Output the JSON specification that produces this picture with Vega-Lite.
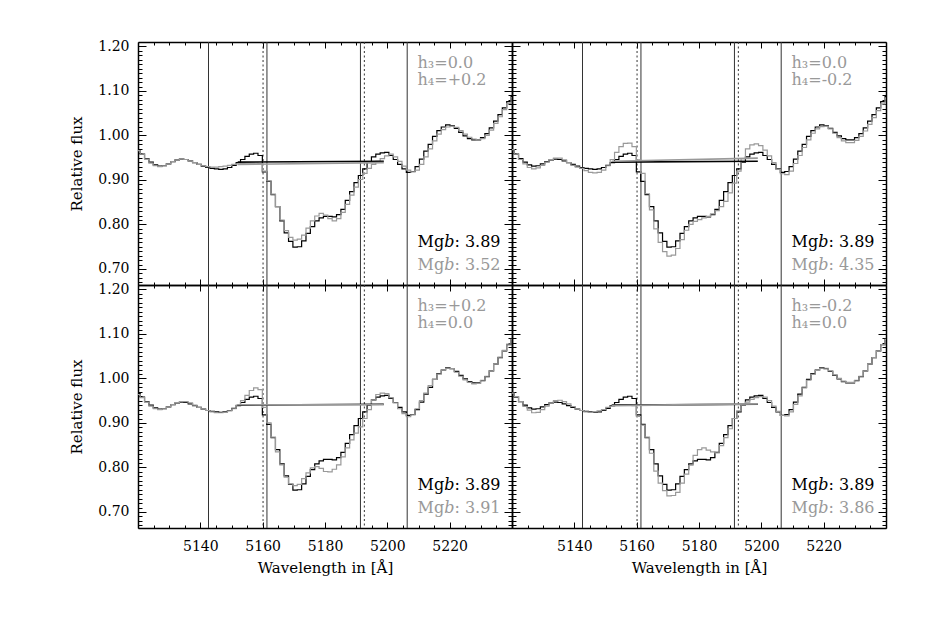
{
  "$schema": "https://vega.github.io/schema/vega-lite/v6.json",
  "padding": {"left": 69, "top": 39, "right": 5, "bottom": 5},
  "background": "white",
  "spacing": 0,
  "bounds": "flush",
  "columns": 2,
  "datasets": {
    "spec": [
      {"w":5120.0,"b":0.966,"g1":0.966,"g2":0.968,"g3":0.964,"g4":0.967},
      {"w":5121.4,"b":0.958,"g1":0.958,"g2":0.958,"g3":0.957,"g4":0.959},
      {"w":5122.8,"b":0.948,"g1":0.947,"g2":0.946,"g3":0.947,"g4":0.948},
      {"w":5124.2,"b":0.940,"g1":0.938,"g2":0.936,"g3":0.938,"g4":0.937},
      {"w":5125.6,"b":0.934,"g1":0.932,"g2":0.928,"g3":0.932,"g4":0.929},
      {"w":5127.0,"b":0.931,"g1":0.930,"g2":0.925,"g3":0.930,"g4":0.923},
      {"w":5128.4,"b":0.932,"g1":0.932,"g2":0.927,"g3":0.932,"g4":0.924},
      {"w":5129.8,"b":0.936,"g1":0.936,"g2":0.933,"g3":0.936,"g4":0.930},
      {"w":5131.2,"b":0.941,"g1":0.941,"g2":0.940,"g3":0.941,"g4":0.938},
      {"w":5132.6,"b":0.945,"g1":0.945,"g2":0.946,"g3":0.946,"g4":0.945},
      {"w":5134.0,"b":0.947,"g1":0.947,"g2":0.949,"g3":0.948,"g4":0.950},
      {"w":5135.4,"b":0.946,"g1":0.946,"g2":0.949,"g3":0.948,"g4":0.951},
      {"w":5136.8,"b":0.943,"g1":0.943,"g2":0.945,"g3":0.945,"g4":0.948},
      {"w":5138.2,"b":0.939,"g1":0.939,"g2":0.939,"g3":0.940,"g4":0.943},
      {"w":5139.6,"b":0.935,"g1":0.935,"g2":0.933,"g3":0.935,"g4":0.937},
      {"w":5141.0,"b":0.931,"g1":0.932,"g2":0.929,"g3":0.931,"g4":0.931},
      {"w":5142.4,"b":0.928,"g1":0.930,"g2":0.926,"g3":0.928,"g4":0.928},
      {"w":5143.8,"b":0.926,"g1":0.929,"g2":0.921,"g3":0.925,"g4":0.925},
      {"w":5145.2,"b":0.925,"g1":0.929,"g2":0.917,"g3":0.923,"g4":0.924},
      {"w":5146.6,"b":0.924,"g1":0.930,"g2":0.916,"g3":0.923,"g4":0.925},
      {"w":5148.0,"b":0.925,"g1":0.931,"g2":0.917,"g3":0.924,"g4":0.927},
      {"w":5149.4,"b":0.928,"g1":0.933,"g2":0.922,"g3":0.927,"g4":0.930},
      {"w":5150.8,"b":0.933,"g1":0.935,"g2":0.932,"g3":0.932,"g4":0.935},
      {"w":5152.2,"b":0.939,"g1":0.936,"g2":0.946,"g3":0.940,"g4":0.938},
      {"w":5153.6,"b":0.946,"g1":0.937,"g2":0.962,"g3":0.950,"g4":0.940},
      {"w":5155.0,"b":0.953,"g1":0.938,"g2":0.975,"g3":0.962,"g4":0.941},
      {"w":5156.4,"b":0.958,"g1":0.938,"g2":0.982,"g3":0.973,"g4":0.941},
      {"w":5157.8,"b":0.960,"g1":0.938,"g2":0.983,"g3":0.979,"g4":0.941},
      {"w":5159.2,"b":0.955,"g1":0.937,"g2":0.975,"g3":0.975,"g4":0.939},
      {"w":5160.6,"b":0.918,"g1":0.920,"g2":0.945,"g3":0.935,"g4":0.915},
      {"w":5162.0,"b":0.897,"g1":0.898,"g2":0.915,"g3":0.900,"g4":0.895},
      {"w":5163.4,"b":0.867,"g1":0.868,"g2":0.869,"g3":0.868,"g4":0.868},
      {"w":5164.8,"b":0.840,"g1":0.840,"g2":0.833,"g3":0.835,"g4":0.832},
      {"w":5166.2,"b":0.808,"g1":0.810,"g2":0.790,"g3":0.806,"g4":0.792},
      {"w":5167.6,"b":0.781,"g1":0.786,"g2":0.760,"g3":0.778,"g4":0.765},
      {"w":5169.0,"b":0.762,"g1":0.771,"g2":0.739,"g3":0.763,"g4":0.748},
      {"w":5170.4,"b":0.749,"g1":0.765,"g2":0.729,"g3":0.759,"g4":0.736},
      {"w":5171.8,"b":0.750,"g1":0.767,"g2":0.731,"g3":0.762,"g4":0.737},
      {"w":5173.2,"b":0.763,"g1":0.776,"g2":0.746,"g3":0.775,"g4":0.744},
      {"w":5174.6,"b":0.780,"g1":0.792,"g2":0.766,"g3":0.788,"g4":0.765},
      {"w":5176.0,"b":0.795,"g1":0.808,"g2":0.787,"g3":0.799,"g4":0.785},
      {"w":5177.4,"b":0.808,"g1":0.819,"g2":0.800,"g3":0.802,"g4":0.805},
      {"w":5178.8,"b":0.815,"g1":0.825,"g2":0.807,"g3":0.798,"g4":0.827},
      {"w":5180.2,"b":0.818,"g1":0.821,"g2":0.811,"g3":0.791,"g4":0.840},
      {"w":5181.6,"b":0.818,"g1":0.813,"g2":0.815,"g3":0.790,"g4":0.844},
      {"w":5183.0,"b":0.817,"g1":0.808,"g2":0.818,"g3":0.796,"g4":0.839},
      {"w":5184.4,"b":0.822,"g1":0.813,"g2":0.824,"g3":0.806,"g4":0.835},
      {"w":5185.8,"b":0.834,"g1":0.827,"g2":0.831,"g3":0.824,"g4":0.833},
      {"w":5187.2,"b":0.854,"g1":0.845,"g2":0.840,"g3":0.844,"g4":0.849},
      {"w":5188.6,"b":0.874,"g1":0.866,"g2":0.852,"g3":0.862,"g4":0.867},
      {"w":5190.0,"b":0.894,"g1":0.884,"g2":0.871,"g3":0.877,"g4":0.887},
      {"w":5191.4,"b":0.910,"g1":0.901,"g2":0.893,"g3":0.891,"g4":0.910},
      {"w":5192.8,"b":0.925,"g1":0.915,"g2":0.920,"g3":0.910,"g4":0.927},
      {"w":5194.2,"b":0.940,"g1":0.926,"g2":0.948,"g3":0.930,"g4":0.940},
      {"w":5195.6,"b":0.952,"g1":0.935,"g2":0.970,"g3":0.952,"g4":0.947},
      {"w":5197.0,"b":0.958,"g1":0.942,"g2":0.979,"g3":0.964,"g4":0.953},
      {"w":5198.4,"b":0.961,"g1":0.948,"g2":0.981,"g3":0.967,"g4":0.957},
      {"w":5199.8,"b":0.962,"g1":0.954,"g2":0.977,"g3":0.966,"g4":0.959},
      {"w":5201.2,"b":0.955,"g1":0.958,"g2":0.967,"g3":0.957,"g4":0.958},
      {"w":5202.6,"b":0.946,"g1":0.952,"g2":0.954,"g3":0.945,"g4":0.950},
      {"w":5204.0,"b":0.935,"g1":0.942,"g2":0.939,"g3":0.932,"g4":0.938},
      {"w":5205.4,"b":0.925,"g1":0.931,"g2":0.924,"g3":0.921,"g4":0.926},
      {"w":5206.8,"b":0.917,"g1":0.922,"g2":0.914,"g3":0.914,"g4":0.917},
      {"w":5208.2,"b":0.919,"g1":0.918,"g2":0.912,"g3":0.918,"g4":0.916},
      {"w":5209.6,"b":0.930,"g1":0.922,"g2":0.920,"g3":0.932,"g4":0.925},
      {"w":5211.0,"b":0.947,"g1":0.935,"g2":0.937,"g3":0.950,"g4":0.942},
      {"w":5212.4,"b":0.965,"g1":0.952,"g2":0.955,"g3":0.967,"g4":0.961},
      {"w":5213.8,"b":0.980,"g1":0.970,"g2":0.973,"g3":0.984,"g4":0.979},
      {"w":5215.2,"b":0.998,"g1":0.988,"g2":0.990,"g3":0.998,"g4":0.996},
      {"w":5216.6,"b":1.011,"g1":1.003,"g2":1.005,"g3":1.010,"g4":1.009},
      {"w":5218.0,"b":1.019,"g1":1.013,"g2":1.015,"g3":1.019,"g4":1.018},
      {"w":5219.4,"b":1.024,"g1":1.019,"g2":1.020,"g3":1.023,"g4":1.023},
      {"w":5220.8,"b":1.022,"g1":1.021,"g2":1.021,"g3":1.022,"g4":1.023},
      {"w":5222.2,"b":1.016,"g1":1.018,"g2":1.015,"g3":1.014,"g4":1.017},
      {"w":5223.6,"b":1.007,"g1":1.011,"g2":1.005,"g3":1.005,"g4":1.008},
      {"w":5225.0,"b":0.999,"g1":1.003,"g2":0.995,"g3":0.997,"g4":1.000},
      {"w":5226.4,"b":0.993,"g1":0.996,"g2":0.988,"g3":0.991,"g4":0.994},
      {"w":5227.8,"b":0.990,"g1":0.992,"g2":0.984,"g3":0.988,"g4":0.991},
      {"w":5229.2,"b":0.990,"g1":0.990,"g2":0.984,"g3":0.989,"g4":0.991},
      {"w":5230.6,"b":0.995,"g1":0.993,"g2":0.989,"g3":0.996,"g4":0.996},
      {"w":5232.0,"b":1.004,"g1":1.000,"g2":0.998,"g3":1.005,"g4":1.005},
      {"w":5233.4,"b":1.017,"g1":1.012,"g2":1.010,"g3":1.017,"g4":1.017},
      {"w":5234.8,"b":1.032,"g1":1.027,"g2":1.025,"g3":1.032,"g4":1.032},
      {"w":5236.2,"b":1.047,"g1":1.042,"g2":1.040,"g3":1.048,"g4":1.047},
      {"w":5237.6,"b":1.062,"g1":1.058,"g2":1.056,"g3":1.063,"g4":1.062},
      {"w":5239.0,"b":1.076,"g1":1.072,"g2":1.071,"g3":1.077,"g4":1.076},
      {"w":5240.4,"b":1.088,"g1":1.085,"g2":1.084,"g3":1.088,"g4":1.088}
    ],
    "vlines": [
      {"w":5142.625,"style":"solid"},
      {"w":5161.375,"style":"solid"},
      {"w":5191.375,"style":"solid"},
      {"w":5206.375,"style":"solid"},
      {"w":5160.125,"style":"dotted"},
      {"w":5192.625,"style":"dotted"}
    ],
    "cont": [
      {"p":"TL","who":"ref","w":5152.0,"f":0.940},
      {"p":"TL","who":"ref","w":5198.875,"f":0.942},
      {"p":"TL","who":"model","w":5152.0,"f":0.935},
      {"p":"TL","who":"model","w":5198.875,"f":0.939},
      {"p":"TR","who":"ref","w":5152.0,"f":0.940},
      {"p":"TR","who":"ref","w":5198.875,"f":0.942},
      {"p":"TR","who":"model","w":5152.0,"f":0.942},
      {"p":"TR","who":"model","w":5198.875,"f":0.949},
      {"p":"BL","who":"ref","w":5152.0,"f":0.940},
      {"p":"BL","who":"ref","w":5198.875,"f":0.942},
      {"p":"BL","who":"model","w":5152.0,"f":0.941},
      {"p":"BL","who":"model","w":5198.875,"f":0.941},
      {"p":"BR","who":"ref","w":5152.0,"f":0.940},
      {"p":"BR","who":"ref","w":5198.875,"f":0.942},
      {"p":"BR","who":"model","w":5152.0,"f":0.939},
      {"p":"BR","who":"model","w":5198.875,"f":0.943}
    ],
    "notes": [
      {"p":"TL","who":"model","x":5209.7,"y":1.163,"label":"h₃=0.0"},
      {"p":"TL","who":"model","x":5209.7,"y":1.124,"label":"h₄=+0.2"},
      {"p":"TL","who":"ref","x":5209.7,"y":0.760,"label":"Mg𝑏: 3.89"},
      {"p":"TL","who":"model","x":5209.7,"y":0.710,"label":"Mg𝑏: 3.52"},
      {"p":"TR","who":"model","x":5209.7,"y":1.163,"label":"h₃=0.0"},
      {"p":"TR","who":"model","x":5209.7,"y":1.124,"label":"h₄=-0.2"},
      {"p":"TR","who":"ref","x":5209.7,"y":0.760,"label":"Mg𝑏: 3.89"},
      {"p":"TR","who":"model","x":5209.7,"y":0.710,"label":"Mg𝑏: 4.35"},
      {"p":"BL","who":"model","x":5209.7,"y":1.163,"label":"h₃=+0.2"},
      {"p":"BL","who":"model","x":5209.7,"y":1.124,"label":"h₄=0.0"},
      {"p":"BL","who":"ref","x":5209.7,"y":0.760,"label":"Mg𝑏: 3.89"},
      {"p":"BL","who":"model","x":5209.7,"y":0.710,"label":"Mg𝑏: 3.91"},
      {"p":"BR","who":"model","x":5209.7,"y":1.163,"label":"h₃=-0.2"},
      {"p":"BR","who":"model","x":5209.7,"y":1.124,"label":"h₄=0.0"},
      {"p":"BR","who":"ref","x":5209.7,"y":0.760,"label":"Mg𝑏: 3.89"},
      {"p":"BR","who":"model","x":5209.7,"y":0.710,"label":"Mg𝑏: 3.86"}
    ]
  },
  "concat": [
    {
      "width": 374, "height": 243,
      "resolve": {"axis": {"x": "independent", "y": "independent"}},
      "layer": [
        {"data": {"name": "vlines"}, "mark": {"type": "rule", "color": "#333333", "strokeWidth": 1},
         "encoding": {"x": {"field": "w", "type": "quantitative", "scale": {"domain": [5120, 5240], "nice": false, "zero": false}, "axis": null},
                      "strokeDash": {"field": "style", "type": "nominal", "scale": {"domain": ["solid", "dotted"], "range": [[1, 0], [2, 2.5]]}, "legend": null}}},
        {"data": {"name": "spec"}, "mark": {"type": "line", "interpolate": "step", "color": "black", "strokeWidth": 1.2, "clip": true},
         "encoding": {
           "x": {"field": "w", "type": "quantitative", "scale": {"domain": [5120, 5240], "nice": false, "zero": false},
                 "axis": {"orient": "bottom", "values": [5120,5140,5160,5180,5200,5220,5240], "tickSize": -6, "labels": false, "title": null}},
           "y": {"field": "b", "type": "quantitative", "scale": {"domain": [0.664, 1.21], "nice": false, "zero": false},
                 "axis": {"orient": "left", "values": [0.7,0.8,0.9,1,1.1,1.2], "tickSize": -8, "format": ".2f", "labelPadding": 17, "title": "Relative flux", "titleX": -57, "titleBaseline": "alphabetic"}}}},
        {"data": {"name": "spec"}, "mark": {"type": "line", "interpolate": "step", "color": "#999999", "strokeWidth": 1.2, "clip": true},
         "encoding": {
           "x": {"field": "w", "type": "quantitative", "scale": {"domain": [5120, 5240], "nice": false, "zero": false},
                 "axis": {"orient": "top", "values": [5120,5140,5160,5180,5200,5220,5240], "tickSize": -6, "labels": false, "title": null}},
           "y": {"field": "g1", "type": "quantitative", "scale": {"domain": [0.664, 1.21], "nice": false, "zero": false},
                 "axis": {"orient": "right", "values": [0.7,0.8,0.9,1,1.1,1.2], "tickSize": -8, "labels": false, "title": null}}}},
        {"data": {"name": "cont"}, "transform": [{"filter": "datum.p === 'TL'"}], "mark": {"type": "line", "strokeWidth": 1.6},
         "encoding": {"x": {"field": "w", "type": "quantitative", "scale": {"domain": [5120, 5240], "nice": false, "zero": false},
                            "axis": {"orient": "bottom", "values": [5125,5130,5135,5145,5150,5155,5165,5170,5175,5185,5190,5195,5205,5210,5215,5225,5230,5235], "tickSize": -3, "labels": false, "domain": false, "title": null}},
                      "y": {"field": "f", "type": "quantitative", "scale": {"domain": [0.664, 1.21], "nice": false, "zero": false},
                            "axis": {"orient": "left", "values": [0.67,0.68,0.69,0.71,0.72,0.73,0.74,0.75,0.76,0.77,0.78,0.79,0.81,0.82,0.83,0.84,0.85,0.86,0.87,0.88,0.89,0.91,0.92,0.93,0.94,0.95,0.96,0.97,0.98,0.99,1.01,1.02,1.03,1.04,1.05,1.06,1.07,1.08,1.09,1.11,1.12,1.13,1.14,1.15,1.16,1.17,1.18,1.19], "tickSize": -4, "labels": false, "domain": false, "title": null}},
                      "color": {"field": "who", "type": "nominal", "scale": {"domain": ["ref", "model"], "range": ["black", "#999999"]}, "legend": null}}},
        {"data": {"name": "notes"}, "transform": [{"filter": "datum.p === 'TL'"}], "mark": {"type": "text", "align": "left", "baseline": "middle", "fontSize": 16, "font": "DejaVu Serif"},
         "encoding": {"x": {"field": "x", "type": "quantitative", "scale": {"domain": [5120, 5240], "nice": false, "zero": false},
                            "axis": {"orient": "top", "values": [5125,5130,5135,5145,5150,5155,5165,5170,5175,5185,5190,5195,5205,5210,5215,5225,5230,5235], "tickSize": -3, "labels": false, "domain": false, "title": null}},
                      "y": {"field": "y", "type": "quantitative", "scale": {"domain": [0.664, 1.21], "nice": false, "zero": false},
                            "axis": {"orient": "right", "values": [0.67,0.68,0.69,0.71,0.72,0.73,0.74,0.75,0.76,0.77,0.78,0.79,0.81,0.82,0.83,0.84,0.85,0.86,0.87,0.88,0.89,0.91,0.92,0.93,0.94,0.95,0.96,0.97,0.98,0.99,1.01,1.02,1.03,1.04,1.05,1.06,1.07,1.08,1.09,1.11,1.12,1.13,1.14,1.15,1.16,1.17,1.18,1.19], "tickSize": -4, "labels": false, "domain": false, "title": null}},
                      "text": {"field": "label"},
                      "color": {"field": "who", "type": "nominal", "scale": {"domain": ["ref", "model"], "range": ["black", "#999999"]}, "legend": null}}}
      ]
    },
    {
      "width": 374, "height": 243,
      "resolve": {"axis": {"x": "independent", "y": "independent"}},
      "layer": [
        {"data": {"name": "vlines"}, "mark": {"type": "rule", "color": "#333333", "strokeWidth": 1},
         "encoding": {"x": {"field": "w", "type": "quantitative", "scale": {"domain": [5120, 5240], "nice": false, "zero": false}, "axis": null},
                      "strokeDash": {"field": "style", "type": "nominal", "scale": {"domain": ["solid", "dotted"], "range": [[1, 0], [2, 2.5]]}, "legend": null}}},
        {"data": {"name": "spec"}, "mark": {"type": "line", "interpolate": "step", "color": "black", "strokeWidth": 1.2, "clip": true},
         "encoding": {
           "x": {"field": "w", "type": "quantitative", "scale": {"domain": [5120, 5240], "nice": false, "zero": false},
                 "axis": {"orient": "bottom", "values": [5120,5140,5160,5180,5200,5220,5240], "tickSize": -6, "labels": false, "title": null}},
           "y": {"field": "b", "type": "quantitative", "scale": {"domain": [0.664, 1.21], "nice": false, "zero": false},
                 "axis": {"orient": "left", "values": [0.7,0.8,0.9,1,1.1,1.2], "tickSize": -8, "labels": false, "title": null}}}},
        {"data": {"name": "spec"}, "mark": {"type": "line", "interpolate": "step", "color": "#999999", "strokeWidth": 1.2, "clip": true},
         "encoding": {
           "x": {"field": "w", "type": "quantitative", "scale": {"domain": [5120, 5240], "nice": false, "zero": false},
                 "axis": {"orient": "top", "values": [5120,5140,5160,5180,5200,5220,5240], "tickSize": -6, "labels": false, "title": null}},
           "y": {"field": "g2", "type": "quantitative", "scale": {"domain": [0.664, 1.21], "nice": false, "zero": false},
                 "axis": {"orient": "right", "values": [0.7,0.8,0.9,1,1.1,1.2], "tickSize": -8, "labels": false, "title": null}}}},
        {"data": {"name": "cont"}, "transform": [{"filter": "datum.p === 'TR'"}], "mark": {"type": "line", "strokeWidth": 1.6},
         "encoding": {"x": {"field": "w", "type": "quantitative", "scale": {"domain": [5120, 5240], "nice": false, "zero": false},
                            "axis": {"orient": "bottom", "values": [5125,5130,5135,5145,5150,5155,5165,5170,5175,5185,5190,5195,5205,5210,5215,5225,5230,5235], "tickSize": -3, "labels": false, "domain": false, "title": null}},
                      "y": {"field": "f", "type": "quantitative", "scale": {"domain": [0.664, 1.21], "nice": false, "zero": false},
                            "axis": {"orient": "left", "values": [0.67,0.68,0.69,0.71,0.72,0.73,0.74,0.75,0.76,0.77,0.78,0.79,0.81,0.82,0.83,0.84,0.85,0.86,0.87,0.88,0.89,0.91,0.92,0.93,0.94,0.95,0.96,0.97,0.98,0.99,1.01,1.02,1.03,1.04,1.05,1.06,1.07,1.08,1.09,1.11,1.12,1.13,1.14,1.15,1.16,1.17,1.18,1.19], "tickSize": -4, "labels": false, "domain": false, "title": null}},
                      "color": {"field": "who", "type": "nominal", "scale": {"domain": ["ref", "model"], "range": ["black", "#999999"]}, "legend": null}}},
        {"data": {"name": "notes"}, "transform": [{"filter": "datum.p === 'TR'"}], "mark": {"type": "text", "align": "left", "baseline": "middle", "fontSize": 16, "font": "DejaVu Serif"},
         "encoding": {"x": {"field": "x", "type": "quantitative", "scale": {"domain": [5120, 5240], "nice": false, "zero": false},
                            "axis": {"orient": "top", "values": [5125,5130,5135,5145,5150,5155,5165,5170,5175,5185,5190,5195,5205,5210,5215,5225,5230,5235], "tickSize": -3, "labels": false, "domain": false, "title": null}},
                      "y": {"field": "y", "type": "quantitative", "scale": {"domain": [0.664, 1.21], "nice": false, "zero": false},
                            "axis": {"orient": "right", "values": [0.67,0.68,0.69,0.71,0.72,0.73,0.74,0.75,0.76,0.77,0.78,0.79,0.81,0.82,0.83,0.84,0.85,0.86,0.87,0.88,0.89,0.91,0.92,0.93,0.94,0.95,0.96,0.97,0.98,0.99,1.01,1.02,1.03,1.04,1.05,1.06,1.07,1.08,1.09,1.11,1.12,1.13,1.14,1.15,1.16,1.17,1.18,1.19], "tickSize": -4, "labels": false, "domain": false, "title": null}},
                      "text": {"field": "label"},
                      "color": {"field": "who", "type": "nominal", "scale": {"domain": ["ref", "model"], "range": ["black", "#999999"]}, "legend": null}}}
      ]
    },
    {
      "width": 374, "height": 243,
      "resolve": {"axis": {"x": "independent", "y": "independent"}},
      "layer": [
        {"data": {"name": "vlines"}, "mark": {"type": "rule", "color": "#333333", "strokeWidth": 1},
         "encoding": {"x": {"field": "w", "type": "quantitative", "scale": {"domain": [5120, 5240], "nice": false, "zero": false}, "axis": null},
                      "strokeDash": {"field": "style", "type": "nominal", "scale": {"domain": ["solid", "dotted"], "range": [[1, 0], [2, 2.5]]}, "legend": null}}},
        {"data": {"name": "spec"}, "mark": {"type": "line", "interpolate": "step", "color": "black", "strokeWidth": 1.2, "clip": true},
         "encoding": {
           "x": {"field": "w", "type": "quantitative", "scale": {"domain": [5120, 5240], "nice": false, "zero": false},
                 "axis": {"orient": "bottom", "values": [5120,5140,5160,5180,5200,5220,5240], "tickSize": -6, "labelExpr": "(datum.value > 5120 && datum.value < 5240) ? format(datum.value, 'd') : ''", "labelPadding": 17, "title": "Wavelength in [Å]", "titleY": 44, "titleBaseline": "alphabetic"}},
           "y": {"field": "b", "type": "quantitative", "scale": {"domain": [0.664, 1.21], "nice": false, "zero": false},
                 "axis": {"orient": "left", "values": [0.7,0.8,0.9,1,1.1,1.2], "tickSize": -8, "format": ".2f", "labelPadding": 17, "title": "Relative flux", "titleX": -57, "titleBaseline": "alphabetic"}}}},
        {"data": {"name": "spec"}, "mark": {"type": "line", "interpolate": "step", "color": "#999999", "strokeWidth": 1.2, "clip": true},
         "encoding": {
           "x": {"field": "w", "type": "quantitative", "scale": {"domain": [5120, 5240], "nice": false, "zero": false},
                 "axis": {"orient": "top", "values": [5120,5140,5160,5180,5200,5220,5240], "tickSize": -6, "labels": false, "title": null}},
           "y": {"field": "g3", "type": "quantitative", "scale": {"domain": [0.664, 1.21], "nice": false, "zero": false},
                 "axis": {"orient": "right", "values": [0.7,0.8,0.9,1,1.1,1.2], "tickSize": -8, "labels": false, "title": null}}}},
        {"data": {"name": "cont"}, "transform": [{"filter": "datum.p === 'BL'"}], "mark": {"type": "line", "strokeWidth": 1.6},
         "encoding": {"x": {"field": "w", "type": "quantitative", "scale": {"domain": [5120, 5240], "nice": false, "zero": false},
                            "axis": {"orient": "bottom", "values": [5125,5130,5135,5145,5150,5155,5165,5170,5175,5185,5190,5195,5205,5210,5215,5225,5230,5235], "tickSize": -3, "labels": false, "domain": false, "title": null}},
                      "y": {"field": "f", "type": "quantitative", "scale": {"domain": [0.664, 1.21], "nice": false, "zero": false},
                            "axis": {"orient": "left", "values": [0.67,0.68,0.69,0.71,0.72,0.73,0.74,0.75,0.76,0.77,0.78,0.79,0.81,0.82,0.83,0.84,0.85,0.86,0.87,0.88,0.89,0.91,0.92,0.93,0.94,0.95,0.96,0.97,0.98,0.99,1.01,1.02,1.03,1.04,1.05,1.06,1.07,1.08,1.09,1.11,1.12,1.13,1.14,1.15,1.16,1.17,1.18,1.19], "tickSize": -4, "labels": false, "domain": false, "title": null}},
                      "color": {"field": "who", "type": "nominal", "scale": {"domain": ["ref", "model"], "range": ["black", "#999999"]}, "legend": null}}},
        {"data": {"name": "notes"}, "transform": [{"filter": "datum.p === 'BL'"}], "mark": {"type": "text", "align": "left", "baseline": "middle", "fontSize": 16, "font": "DejaVu Serif"},
         "encoding": {"x": {"field": "x", "type": "quantitative", "scale": {"domain": [5120, 5240], "nice": false, "zero": false},
                            "axis": {"orient": "top", "values": [5125,5130,5135,5145,5150,5155,5165,5170,5175,5185,5190,5195,5205,5210,5215,5225,5230,5235], "tickSize": -3, "labels": false, "domain": false, "title": null}},
                      "y": {"field": "y", "type": "quantitative", "scale": {"domain": [0.664, 1.21], "nice": false, "zero": false},
                            "axis": {"orient": "right", "values": [0.67,0.68,0.69,0.71,0.72,0.73,0.74,0.75,0.76,0.77,0.78,0.79,0.81,0.82,0.83,0.84,0.85,0.86,0.87,0.88,0.89,0.91,0.92,0.93,0.94,0.95,0.96,0.97,0.98,0.99,1.01,1.02,1.03,1.04,1.05,1.06,1.07,1.08,1.09,1.11,1.12,1.13,1.14,1.15,1.16,1.17,1.18,1.19], "tickSize": -4, "labels": false, "domain": false, "title": null}},
                      "text": {"field": "label"},
                      "color": {"field": "who", "type": "nominal", "scale": {"domain": ["ref", "model"], "range": ["black", "#999999"]}, "legend": null}}}
      ]
    },
    {
      "width": 374, "height": 243,
      "resolve": {"axis": {"x": "independent", "y": "independent"}},
      "layer": [
        {"data": {"name": "vlines"}, "mark": {"type": "rule", "color": "#333333", "strokeWidth": 1},
         "encoding": {"x": {"field": "w", "type": "quantitative", "scale": {"domain": [5120, 5240], "nice": false, "zero": false}, "axis": null},
                      "strokeDash": {"field": "style", "type": "nominal", "scale": {"domain": ["solid", "dotted"], "range": [[1, 0], [2, 2.5]]}, "legend": null}}},
        {"data": {"name": "spec"}, "mark": {"type": "line", "interpolate": "step", "color": "black", "strokeWidth": 1.2, "clip": true},
         "encoding": {
           "x": {"field": "w", "type": "quantitative", "scale": {"domain": [5120, 5240], "nice": false, "zero": false},
                 "axis": {"orient": "bottom", "values": [5120,5140,5160,5180,5200,5220,5240], "tickSize": -6, "labelExpr": "(datum.value > 5120 && datum.value < 5240) ? format(datum.value, 'd') : ''", "labelPadding": 17, "title": "Wavelength in [Å]", "titleY": 44, "titleBaseline": "alphabetic"}},
           "y": {"field": "b", "type": "quantitative", "scale": {"domain": [0.664, 1.21], "nice": false, "zero": false},
                 "axis": {"orient": "left", "values": [0.7,0.8,0.9,1,1.1,1.2], "tickSize": -8, "labels": false, "title": null}}}},
        {"data": {"name": "spec"}, "mark": {"type": "line", "interpolate": "step", "color": "#999999", "strokeWidth": 1.2, "clip": true},
         "encoding": {
           "x": {"field": "w", "type": "quantitative", "scale": {"domain": [5120, 5240], "nice": false, "zero": false},
                 "axis": {"orient": "top", "values": [5120,5140,5160,5180,5200,5220,5240], "tickSize": -6, "labels": false, "title": null}},
           "y": {"field": "g4", "type": "quantitative", "scale": {"domain": [0.664, 1.21], "nice": false, "zero": false},
                 "axis": {"orient": "right", "values": [0.7,0.8,0.9,1,1.1,1.2], "tickSize": -8, "labels": false, "title": null}}}},
        {"data": {"name": "cont"}, "transform": [{"filter": "datum.p === 'BR'"}], "mark": {"type": "line", "strokeWidth": 1.6},
         "encoding": {"x": {"field": "w", "type": "quantitative", "scale": {"domain": [5120, 5240], "nice": false, "zero": false},
                            "axis": {"orient": "bottom", "values": [5125,5130,5135,5145,5150,5155,5165,5170,5175,5185,5190,5195,5205,5210,5215,5225,5230,5235], "tickSize": -3, "labels": false, "domain": false, "title": null}},
                      "y": {"field": "f", "type": "quantitative", "scale": {"domain": [0.664, 1.21], "nice": false, "zero": false},
                            "axis": {"orient": "left", "values": [0.67,0.68,0.69,0.71,0.72,0.73,0.74,0.75,0.76,0.77,0.78,0.79,0.81,0.82,0.83,0.84,0.85,0.86,0.87,0.88,0.89,0.91,0.92,0.93,0.94,0.95,0.96,0.97,0.98,0.99,1.01,1.02,1.03,1.04,1.05,1.06,1.07,1.08,1.09,1.11,1.12,1.13,1.14,1.15,1.16,1.17,1.18,1.19], "tickSize": -4, "labels": false, "domain": false, "title": null}},
                      "color": {"field": "who", "type": "nominal", "scale": {"domain": ["ref", "model"], "range": ["black", "#999999"]}, "legend": null}}},
        {"data": {"name": "notes"}, "transform": [{"filter": "datum.p === 'BR'"}], "mark": {"type": "text", "align": "left", "baseline": "middle", "fontSize": 16, "font": "DejaVu Serif"},
         "encoding": {"x": {"field": "x", "type": "quantitative", "scale": {"domain": [5120, 5240], "nice": false, "zero": false},
                            "axis": {"orient": "top", "values": [5125,5130,5135,5145,5150,5155,5165,5170,5175,5185,5190,5195,5205,5210,5215,5225,5230,5235], "tickSize": -3, "labels": false, "domain": false, "title": null}},
                      "y": {"field": "y", "type": "quantitative", "scale": {"domain": [0.664, 1.21], "nice": false, "zero": false},
                            "axis": {"orient": "right", "values": [0.67,0.68,0.69,0.71,0.72,0.73,0.74,0.75,0.76,0.77,0.78,0.79,0.81,0.82,0.83,0.84,0.85,0.86,0.87,0.88,0.89,0.91,0.92,0.93,0.94,0.95,0.96,0.97,0.98,0.99,1.01,1.02,1.03,1.04,1.05,1.06,1.07,1.08,1.09,1.11,1.12,1.13,1.14,1.15,1.16,1.17,1.18,1.19], "tickSize": -4, "labels": false, "domain": false, "title": null}},
                      "text": {"field": "label"},
                      "color": {"field": "who", "type": "nominal", "scale": {"domain": ["ref", "model"], "range": ["black", "#999999"]}, "legend": null}}}
      ]
    }
  ],
  "config": {
    "view": {"stroke": null},
    "axis": {"grid": false, "ticks": true, "domainColor": "black", "domainWidth": 1.5, "tickColor": "black", "tickWidth": 1,
             "labelFont": "DejaVu Serif", "labelFontSize": 14, "labelColor": "black",
             "titleFont": "DejaVu Serif", "titleFontSize": 15, "titleFontWeight": "normal", "titleColor": "black",
             "labelOverlap": false, "labelBound": false, "labelFlush": false}
  }
}
